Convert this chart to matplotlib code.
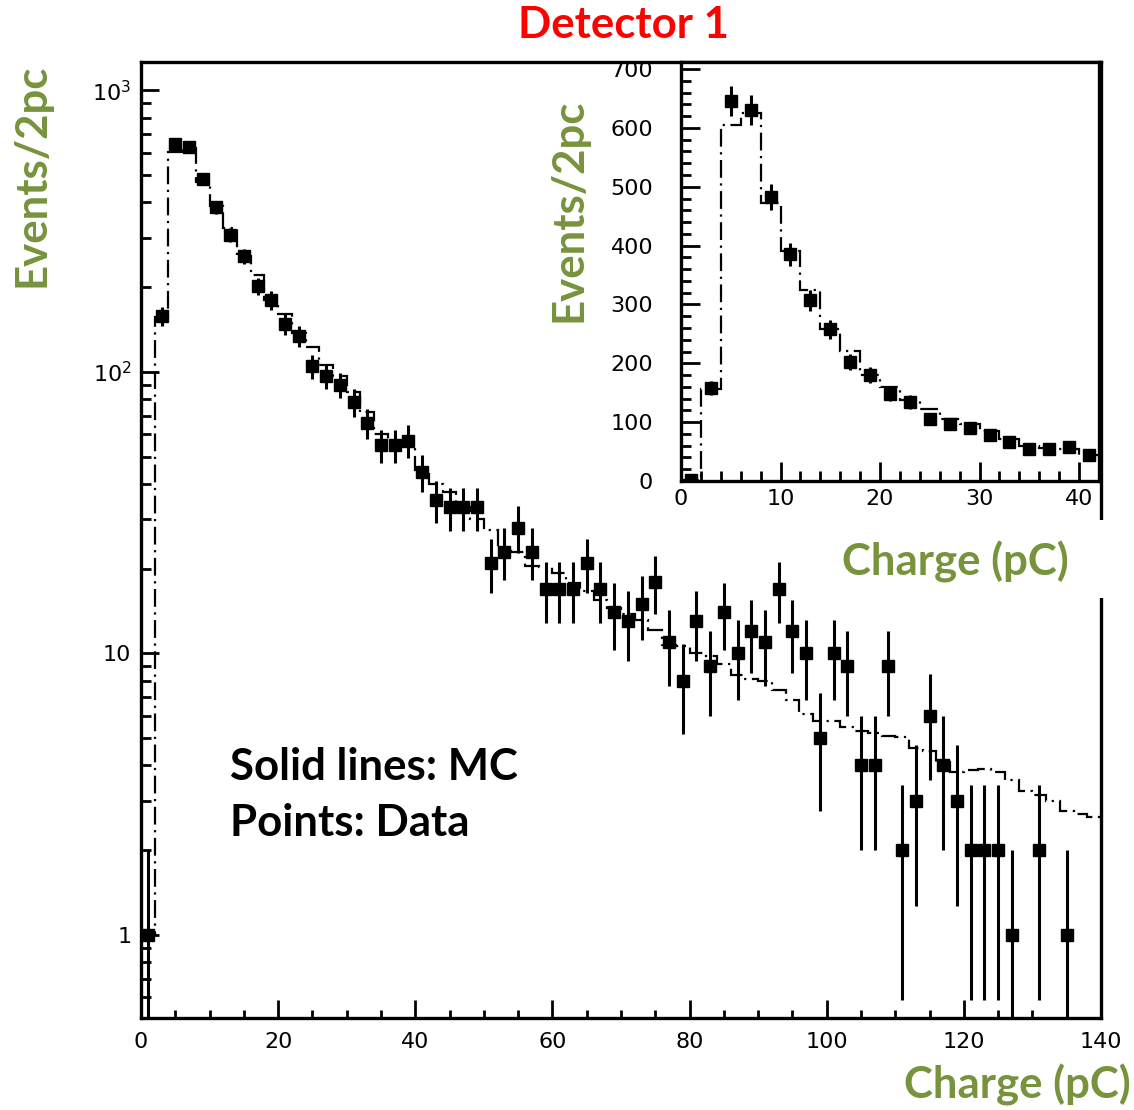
import numpy as np
import matplotlib.pyplot as plt
from matplotlib.ticker import MultipleLocator, FixedLocator, FuncFormatter, NullFormatter
from matplotlib.patches import Rectangle

# 2 pC bins from 0 to 140 pC
bin_edges = np.arange(0, 141, 2)
bin_centres = np.arange(1, 140, 2)

# measured counts per bin (points)
data_counts = [1, 158, 645, 630, 483, 385, 307, 258, 202, 180,
               148, 134, 105, 97, 90, 78, 66, 55, 55, 57,
               44, 35, 33, 33, 33, 21, 23, 28, 23, 17,
               17, 17, 21, 17, 14, 13, 15, 18, 11, 8,
               13, 9, 14, 10, 12, 11, 17, 12, 10, 5,
               10, 9, 4, 4, 9, 2, 3, 6, 4, 3,
               2, 2, 2, 1, 0, 2, 0, 1, 0, 0]

# simulated spectrum (dash-dot histogram)
mc_counts = [1.0, 157, 605, 625, 472, 390, 324, 258, 221, 180,
             160, 137, 123, 106, 97, 85, 72, 60, 56, 55,
             45, 40, 37.5, 33, 30, 27.5, 23.2, 23.0, 20.5, 20.3,
             19.3, 17.8, 16.7, 15.5, 14.5, 13.8, 13.1, 12.1, 10.7, 10.6,
             10.05, 9.8, 9.2, 8.4, 8.1, 8.0, 7.4, 6.85, 6.1, 5.75,
             5.75, 5.5, 5.3, 5.2, 5.1, 5.05, 4.6, 4.5, 4.1, 3.8,
             3.85, 3.9, 3.8, 3.55, 3.25, 3.15, 3.0, 2.75, 2.7, 2.62]

main_xticks = [0, 20, 40, 60, 80, 100, 120, 140]
main_yticks = [1, 10, 100, 1000]
main_ylabels = ['1', '10', '$\\mathregular{10^2}$', '$\\mathregular{10^3}$']
inset_xticks = [0, 10, 20, 30, 40]
inset_yticks = [0, 100, 200, 300, 400, 500, 600, 700]

W, H = 1134, 1110
green = '#77933C'
lab_font = dict(family='Lato', weight='bold')
lab_size = 31.5
dash = (0, (8, 2.5, 1, 2.5))

plt.rcParams['font.family'] = 'DejaVu Sans'
fig = plt.figure(figsize=(W / 100, H / 100), dpi=100)


def style_axes(ax, major_len, minor_len, ysize):
    for s in ax.spines.values():
        s.set_linewidth(2.4)
    ax.tick_params(which='both', direction='in', top=False, right=False,
                   width=2, labelsize=ysize)
    ax.tick_params(which='major', length=major_len)
    ax.tick_params(which='minor', length=minor_len)


def draw_hist(ax, x, n, mc):
    n = np.asarray(n, dtype=float)
    keep = n > 0
    y = n[keep]
    err = np.sqrt(y)
    lower = y - np.maximum(y - err, 1e-3)
    ax.errorbar(np.asarray(x)[keep], y, yerr=[lower, err], fmt='s', color='black',
                markersize=8, elinewidth=2.2, capsize=0, zorder=3)
    ax.stairs(mc, bin_edges, baseline=None, color='black', linewidth=1.6,
              linestyle=dash, zorder=2)


# ---- main log plot
ax = fig.add_axes([141 / W, 1 - 1018 / H, 960 / W, 956 / H])
draw_hist(ax, bin_centres, data_counts, mc_counts)
ax.set_yscale('log')
ax.set_xlim(0, 140)
ax.set_ylim(0.507, 1262)
style_axes(ax, 13, 5.5, 16)
ax.xaxis.set_major_locator(FixedLocator(main_xticks))
ax.xaxis.set_minor_locator(MultipleLocator(5))
ax.yaxis.set_major_locator(FixedLocator(main_yticks))
ax.yaxis.set_major_formatter(FuncFormatter(lambda v, p: main_ylabels[main_yticks.index(round(v))]
                                           if round(v) in main_yticks else ''))
minor_y = [m * 10.0 ** k for k in range(-1, 3) for m in range(2, 10)]
ax.yaxis.set_minor_locator(FixedLocator(minor_y))
ax.yaxis.set_minor_formatter(NullFormatter())
ax.tick_params(axis='y', which='major', pad=7)
ax.tick_params(axis='y', which='minor', length=7)
ax.tick_params(axis='x', which='major', pad=10)

# hide the right frame behind the inset axis title
fig.add_artist(Rectangle((830 / W, 1 - 598 / H), 300 / W, 78 / H, transform=fig.transFigure,
                         facecolor='white', edgecolor='none', zorder=1))

# ---- inset linear plot
axi = fig.add_axes([681 / W, 1 - 481 / H, 418 / W, 419 / H], zorder=3)
draw_hist(axi, bin_centres, data_counts, mc_counts)
axi.set_xlim(0, 42)
axi.set_ylim(0, 712)
style_axes(axi, 14, 7, 16)
axi.xaxis.set_major_locator(FixedLocator(inset_xticks))
axi.xaxis.set_minor_locator(MultipleLocator(2))
axi.yaxis.set_major_locator(FixedLocator(inset_yticks))
axi.yaxis.set_minor_locator(MultipleLocator(20))
axi.tick_params(axis='y', which='major', pad=20)
axi.tick_params(axis='x', which='major', pad=6)

# ---- texts
fig.text(623 / W, 1 - 25 / H, 'Detector 1', color='#FF0000', fontsize=lab_size,
         ha='center', va='center', **lab_font)
fig.text(32 / W, 1 - 175 / H, 'Events/2pc', color=green, fontsize=lab_size, rotation=90,
         ha='center', va='center', **lab_font)
fig.text(568 / W, 1 - 210 / H, 'Events/2pc', color=green, fontsize=lab_size, rotation=90,
         ha='center', va='center', **lab_font)
fig.text(955 / W, 1 - 562 / H, 'Charge (pC)', color=green, fontsize=lab_size,
         ha='center', va='center', zorder=4, **lab_font)
fig.text(1017 / W, 1 - 1085 / H, 'Charge (pC)', color=green, fontsize=lab_size,
         ha='center', va='center', **lab_font)
fig.text(230 / W, 1 - 767 / H, 'Solid lines: MC', color='black', fontsize=lab_size,
         ha='left', va='center', **lab_font)
fig.text(230 / W, 1 - 823 / H, 'Points: Data', color='black', fontsize=lab_size,
         ha='left', va='center', **lab_font)

fig.savefig('out.png', dpi=100)
